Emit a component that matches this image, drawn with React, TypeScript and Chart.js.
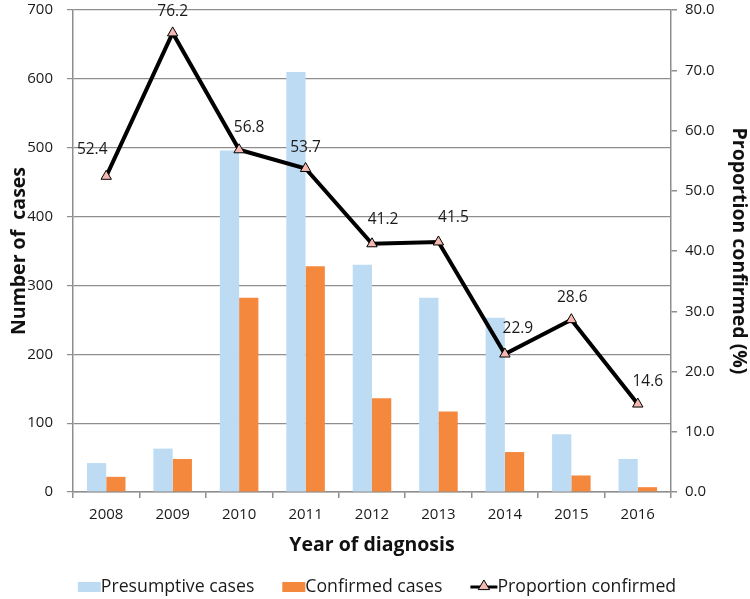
import React, { useEffect, useRef } from 'react';
import { Chart, registerables } from 'chart.js';

Chart.register(...registerables);

const FONT = "'Open Sans', 'DejaVu Sans', sans-serif";

const years = ['2008', '2009', '2010', '2011', '2012', '2013', '2014', '2015', '2016'];
const presumptive = [42, 63, 496, 610, 330, 282, 253, 84, 48];
const confirmed = [22, 48, 282, 328, 136, 117, 58, 24, 7];
const proportion = [52.4, 76.2, 56.8, 53.7, 41.2, 41.5, 22.9, 28.6, 14.6];
const seriesNames = ['Presumptive cases', 'Confirmed cases', 'Proportion confirmed'];

const BLUE = '#BDDCF4';
const ORANGE = '#F4883C';
const PINK = '#F4B8B0';
const GRID = '#8e8e8e';
const TEXT = '#1a1a1a';

// label offsets (dx, dy) relative to each point, as placed in the original
const labelShift: [number, number][] = [
  [-14, -27], [0, -21], [10, -22], [0, -21], [11, -24], [15, -24], [13, -25], [1, -22], [10, -22],
];

const dataLabelPlugin = {
  id: 'dataLabels',
  afterDatasetsDraw(chart: any) {
    const meta = chart.getDatasetMeta(2);
    const ctx = chart.ctx;
    ctx.save();
    ctx.font = `15.5px ${FONT}`;
    ctx.fillStyle = TEXT;
    ctx.textAlign = 'center';
    ctx.textBaseline = 'middle';
    meta.data.forEach((pt: any, i: number) => {
      const [dx, dy] = labelShift[i];
      ctx.fillText(proportion[i].toFixed(1), pt.x + dx, pt.y + dy);
    });
    ctx.restore();
  },
};

function drawTriangle(ctx: CanvasRenderingContext2D, cx: number, cy: number, r: number) {
  ctx.beginPath();
  ctx.moveTo(cx, cy - r);
  ctx.lineTo(cx + r * 0.95, cy + r * 0.6);
  ctx.lineTo(cx - r * 0.95, cy + r * 0.6);
  ctx.closePath();
  ctx.fillStyle = PINK;
  ctx.fill();
  ctx.lineWidth = 1;
  ctx.strokeStyle = '#000';
  ctx.stroke();
}

const legendPlugin = {
  id: 'customLegend',
  afterDraw(chart: any) {
    const ctx = chart.ctx as CanvasRenderingContext2D;
    ctx.save();
    ctx.font = `17.7px ${FONT}`;
    const iconW = [23, 23, 27];
    const gap = 28;
    const widths = seriesNames.map((s, i) => iconW[i] + ctx.measureText(s).width);
    const total = widths.reduce((a, b) => a + b, 0) + gap * 2;
    let x = chart.width / 2 - total / 2 + 2;
    const y = 587;
    ctx.textBaseline = 'middle';
    ctx.textAlign = 'left';
    seriesNames.forEach((s, i) => {
      if (i < 2) {
        ctx.fillStyle = i === 0 ? BLUE : ORANGE;
        ctx.fillRect(x, y - 5, 23, 10);
      } else {
        ctx.strokeStyle = '#000';
        ctx.lineWidth = 3;
        ctx.beginPath();
        ctx.moveTo(x, y);
        ctx.lineTo(x + 27, y);
        ctx.stroke();
        drawTriangle(ctx, x + 13.5, y - 1, 6);
      }
      ctx.fillStyle = TEXT;
      ctx.fillText(s, x + iconW[i], y);
      x += widths[i] + gap;
    });
    ctx.restore();
  },
};

export default function App() {
  const ref = useRef<HTMLCanvasElement | null>(null);

  useEffect(() => {
    if (!ref.current) return;
    const tickFont = { family: FONT, size: 15 };
    const titleFont = { family: FONT, size: 19.5, weight: 'bold' as const };
    const chart = new Chart(ref.current, {
      type: 'bar',
      data: {
        labels: years,
        datasets: [
          {
            type: 'bar',
            label: seriesNames[0],
            data: presumptive,
            backgroundColor: BLUE,
            yAxisID: 'y',
            order: 1,
            categoryPercentage: 0.58,
            barPercentage: 1.0,
          },
          {
            type: 'bar',
            label: seriesNames[1],
            data: confirmed,
            backgroundColor: ORANGE,
            yAxisID: 'y',
            order: 1,
            categoryPercentage: 0.58,
            barPercentage: 1.0,
          },
          {
            type: 'line',
            label: seriesNames[2],
            data: proportion,
            borderColor: '#000',
            borderWidth: 4,
            backgroundColor: PINK,
            pointStyle: 'triangle',
            pointRadius: 6,
            pointBackgroundColor: PINK,
            pointBorderColor: '#000',
            pointBorderWidth: 1,
            tension: 0,
            yAxisID: 'y1',
            order: 0,
          } as any,
        ],
      },
      options: {
        animation: false,
        responsive: true,
        maintainAspectRatio: false,
        layout: { padding: { left: 8, right: 0, top: 0, bottom: 42 } },
        plugins: {
          legend: { display: false },
          tooltip: { enabled: false },
        },
        scales: {
          x: {
            grid: { drawOnChartArea: false, offset: true, tickLength: 6, color: GRID, lineWidth: 1.5 },
            border: { color: GRID, width: 1.5 },
            ticks: { font: tickFont, color: TEXT, padding: 8 },
            title: {
              display: true,
              text: 'Year of diagnosis',
              font: titleFont,
              color: '#111',
              padding: { top: 0, bottom: 0 },
            },
            afterFit: (s: any) => {
              s.height = 65;
              s.paddingLeft = 0;
              s.paddingRight = 0;
            },
          },
          y: {
            position: 'left',
            min: 0,
            max: 700,
            ticks: { stepSize: 100, font: tickFont, color: TEXT, padding: 14 },
            grid: { color: GRID, lineWidth: 1.2, tickLength: 6 },
            border: { color: GRID, width: 1.5 },
            title: {
              display: true,
              text: 'Number of  cases',
              font: titleFont,
              color: '#111',
              padding: { top: 0, bottom: 0 },
            },
            afterFit: (s: any) => {
              s.width = 65;
              s.paddingTop = 10;
              s.paddingBottom = 9;
            },
          },
          y1: {
            position: 'right',
            min: 0,
            max: 80,
            ticks: {
              stepSize: 10,
              font: tickFont,
              color: TEXT,
              padding: 8,
              callback: (v: any) => Number(v).toFixed(1),
            },
            grid: { drawOnChartArea: false, color: GRID, lineWidth: 1.5, tickLength: 6 },
            border: { color: GRID, width: 1.5 },
            title: {
              display: true,
              text: 'Proportion confirmed (%)',
              font: titleFont,
              color: '#111',
              padding: { top: 0, bottom: 0 },
            },
            afterFit: (s: any) => {
              s.width = 79;
              s.paddingTop = 10;
              s.paddingBottom = 9;
            },
          },
        },
      },
      plugins: [dataLabelPlugin, legendPlugin],
    });
    return () => chart.destroy();
  }, []);

  return (
    <div style={{ position: 'absolute', left: 0, top: 0, width: 750, height: 599, background: '#fff' }}>
      <canvas ref={ref} />
    </div>
  );
}
